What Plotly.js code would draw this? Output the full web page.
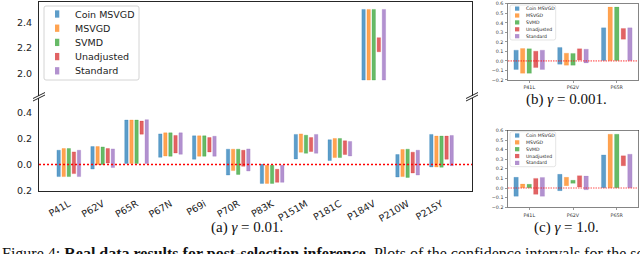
<!DOCTYPE html>
<html><head><meta charset="utf-8">
<script src="https://cdn.plot.ly/plotly-3.0.1.min.js"></script>
<style>html,body{margin:0;padding:0;background:#fff;}#chart{width:640px;height:254px;}</style>
</head><body><div id="chart"></div>
<script>
// ---------- data ----------
const methods = ['Coin MSVGD', 'MSVGD', 'SVMD', 'Unadjusted', 'Standard'];
const mutationsA = ['P41L','P62V','P65R','P67N','P69i','P70R','P83K','P151M','P181C','P184V','P210W','P215Y'];
const mutationsBC = ['P41L','P62V','P65R'];

const yTicksLower = [-0.2, 0.0, 0.2, 0.4];
const yTickTextLower = ['0.2', '0.0', '0.2', '0.4'];
const yTicksUpper = [2.0, 2.2, 2.4];
const yTickTextUpper = ['2.0', '2.2', '2.4'];
const yTicksSmall = [-0.2, -0.1, 0.0, 0.1, 0.2, 0.3, 0.4, 0.5, 0.6];

// (a) gamma = 0.01
const aCoinLo  = [-0.092,-0.034,0.008,0.056,0.041,-0.080,-0.144,0.043,0.031,1.953,-0.095,-0.018];
const aCoinHi  = [0.110,0.138,0.341,0.235,0.220,0.118,0.002,0.231,0.190,2.500,0.077,0.231];
const aMsvgdLo = [-0.092,0.000,0.008,0.066,0.064,-0.046,-0.144,0.095,0.054,1.953,-0.092,-0.018];
const aMsvgdHi = [0.123,0.138,0.341,0.243,0.220,0.118,-0.005,0.235,0.200,2.500,0.115,0.218];
const aSvmdLo  = [-0.092,0.000,0.008,0.064,0.064,-0.075,-0.144,0.087,0.054,1.953,-0.098,-0.020];
const aSvmdHi  = [0.123,0.135,0.341,0.243,0.220,0.118,-0.005,0.225,0.200,2.500,0.118,0.218];
const aUnadjLo = [-0.069,0.012,0.233,0.089,0.097,-0.013,-0.136,0.100,0.077,2.172,-0.064,0.041];
const aUnadjHi = [0.097,0.123,0.333,0.223,0.207,0.110,-0.036,0.207,0.182,2.281,0.095,0.218];
const aStdLo   = [-0.092,-0.023,0.008,0.079,0.064,-0.049,-0.136,0.087,0.066,1.953,-0.080,-0.008];
const aStdHi   = [0.110,0.120,0.344,0.243,0.217,0.120,-0.005,0.231,0.177,2.500,0.110,0.223];

// (b) gamma = 0.001
const bCoinLo  = [-0.090,-0.035,0.005];
const bCoinHi  = [0.113,0.141,0.347];
const bMsvgdLo = [-0.130,-0.045,0.005];
const bMsvgdHi = [0.130,0.081,0.565];
const bSvmdLo  = [-0.130,-0.045,0.005];
const bSvmdHi  = [0.127,0.078,0.565];
const bUnadjLo = [-0.070,0.008,0.228];
const bUnadjHi = [0.102,0.127,0.341];
const bStdLo   = [-0.090,-0.021,0.005];
const bStdHi   = [0.113,0.123,0.347];

// (c) gamma = 1.0
const cCoinLo  = [-0.086,-0.028,0.003];
const cCoinHi  = [0.111,0.142,0.345];
const cMsvgdLo = [0.003,0.024,0.003];
const cMsvgdHi = [0.041,0.111,0.560];
const cSvmdLo  = [0.003,0.049,0.003];
const cSvmdHi  = [0.038,0.080,0.560];
const cUnadjLo = [-0.066,0.010,0.231];
const cUnadjHi = [0.100,0.128,0.335];
const cStdLo   = [-0.086,-0.018,0.003];
const cStdHi   = [0.110,0.124,0.352];

// ---------- styling ----------
const rgb = ['31,119,180','255,127,14','44,160,44','214,39,40','148,103,189'];
const W = 640, H = 254;
const X = px => px / W;
const Y = py => 1 - py / H;
const axc = '#262626';

const aSets = [[aCoinLo,aCoinHi],[aMsvgdLo,aMsvgdHi],[aSvmdLo,aSvmdHi],[aUnadjLo,aUnadjHi],[aStdLo,aStdHi]];
const bSets = [[bCoinLo,bCoinHi],[bMsvgdLo,bMsvgdHi],[bSvmdLo,bSvmdHi],[bUnadjLo,bUnadjHi],[bStdLo,bStdHi]];
const cSets = [[cCoinLo,cCoinHi],[cMsvgdLo,cMsvgdHi],[cSvmdLo,cSvmdHi],[cUnadjLo,cUnadjHi],[cStdLo,cStdHi]];

function barTrace(cats, lo, hi, i, xa, ya, lw) {
  return {
    type: 'bar', name: methods[i], x: cats, base: lo,
    y: hi.map((h, k) => h - lo[k]),
    xaxis: xa, yaxis: ya,
    width: 0.1, offset: -0.05 + (i - 2) * 0.15,
    marker: {color: `rgba(${rgb[i]},0.72)`, line: {color: `rgba(${rgb[i]},0.3)`, width: lw}},
    showlegend: false, hoverinfo: 'skip'
  };
}

const data = [];
aSets.forEach((s, i) => data.push(barTrace(mutationsA, s[0], s[1], i, 'x', 'y', 0.9)));
aSets.forEach((s, i) => data.push(barTrace(mutationsA, s[0], s[1], i, 'x2', 'y2', 0.9)));
bSets.forEach((s, i) => data.push(barTrace(mutationsBC, s[0], s[1], i, 'x3', 'y3', 0.6)));
cSets.forEach((s, i) => data.push(barTrace(mutationsBC, s[0], s[1], i, 'x4', 'y4', 0.6)));

const shapes = [];
const annotations = [];

// zero reference lines
shapes.push({type:'line', xref:'x domain', yref:'y', x0:0, x1:1, y0:0, y1:0, layer:'above',
  line:{color:'#ff0000', width:1.5, dash:'2px,2px'}});
shapes.push({type:'line', xref:'x3 domain', yref:'y3', x0:0, x1:1, y0:0, y1:0, layer:'above',
  line:{color:'rgba(255,0,0,0.45)', width:1.6, dash:'1.5px,1px'}});
shapes.push({type:'line', xref:'x4 domain', yref:'y4', x0:0, x1:1, y0:0, y1:0, layer:'above',
  line:{color:'rgba(255,0,0,0.45)', width:1.6, dash:'1.5px,1px'}});

// break marks
[39, 472].forEach(cx => {
  [95.5, 98].forEach(cy => {
    shapes.push({type:'line', xref:'paper', yref:'paper', x0:X(cx-6), x1:X(cx+6), y0:Y(cy+3), y1:Y(cy-3),
      line:{color:axc, width:1}});
  });
});

// legends
function roundedBox(x0, y0, x1, y1, r) {
  const p = (x, y) => `${X(x)},${Y(y)}`;
  return `M${p(x0+r,y0)} L${p(x1-r,y0)} Q${p(x1,y0)} ${p(x1,y0+r)} L${p(x1,y1-r)} Q${p(x1,y1)} ${p(x1-r,y1)} L${p(x0+r,y1)} Q${p(x0,y1)} ${p(x0,y1-r)} L${p(x0,y0+r)} Q${p(x0,y0)} ${p(x0+r,y0)} Z`;
}
function addLegend(box, firstY, dy, symX, symW, symH, textX, fontSize, lw) {
  shapes.push({type:'path', xref:'paper', yref:'paper', path: roundedBox(box[0], box[1], box[2], box[3], 2),
    fillcolor:'rgba(255,255,255,0.85)', line:{color:'#d4d4d4', width:lw}, layer:'above'});
  methods.forEach((m, i) => {
    const cy = firstY + i * dy;
    shapes.push({type:'rect', xref:'paper', yref:'paper', x0:X(symX), x1:X(symX+symW), y0:Y(cy+symH/2), y1:Y(cy-symH/2),
      fillcolor:`rgba(${rgb[i]},0.72)`, line:{width:0}, layer:'above'});
    annotations.push({xref:'paper', yref:'paper', x:X(textX), y:Y(cy), xanchor:'left', yanchor:'middle',
      text:m, showarrow:false, borderpad:0, font:{family:'DejaVu Sans', size:fontSize, color:'#222'}});
  });
}
addLegend([44, 6, 139, 80], 14, 14.2, 55, 4.3, 7.3, 74, 9.5, 1);
addLegend([510, 5, 555.7, 40], 8.6, 6.9, 515, 4.3, 4.2, 524.5, 4.6, 0.6);
addLegend([510, 131.7, 555.7, 166.7], 135.5, 6.85, 515, 4.3, 4.2, 524.5, 4.6, 0.6);

// captions
const capFont = {family:'Liberation Serif, Times New Roman, serif', size:15, color:'#111'};
annotations.push({xref:'paper', yref:'paper', x:X(246.7), y:Y(227.5), xanchor:'center', yanchor:'middle',
  text:'(a) <i>γ</i> = 0.01.', showarrow:false, font:capFont});
annotations.push({xref:'paper', yref:'paper', x:X(566.7), y:Y(100), xanchor:'center', yanchor:'middle',
  text:'(b) <i>γ</i> = 0.001.', showarrow:false, font:capFont});
annotations.push({xref:'paper', yref:'paper', x:X(566), y:Y(227.5), xanchor:'center', yanchor:'middle',
  text:'(c) <i>γ</i> = 1.0.', showarrow:false, font:capFont});
annotations.push({xref:'paper', yref:'paper', x:X(0), y:Y(253.5), xanchor:'left', yanchor:'middle',
  text:'Figure 4: <b>Real data results for post-selection inference.</b> Plots of the confidence intervals for the selected mutations', showarrow:false,
  font:{family:'Liberation Serif, Times New Roman, serif', size:16, color:'#111'}});

const mainY = {showline:true, mirror:true, linecolor:axc, linewidth:1.1, showgrid:false, zeroline:false,
  ticks:'', tickfont:{size:9.5, color:'#222'}, ticklabelstandoff:4};
const smallAx = {showline:true, mirror:true, linecolor:'#333', linewidth:0.6, showgrid:false, zeroline:false,
  ticks:'outside', ticklen:2, tickwidth:0.5, tickcolor:'#333', tickfont:{size:4.8, color:'#333'}, ticklabelstandoff:1};

const layout = {
  width: W, height: H, margin:{l:0, r:0, t:0, b:0}, showlegend:false, barmode:'overlay',
  paper_bgcolor:'#fff', plot_bgcolor:'rgba(0,0,0,0)',
  font:{family:'DejaVu Sans', color:'#222'},
  xaxis: {domain:[X(39), X(472)], anchor:'y', type:'category', range:[-0.88, 11.9], tickangle:-30,
    tickfont:{size:9.5, color:'#222'}, showline:true, linecolor:axc, linewidth:1.1, ticks:'',
    showgrid:false, zeroline:false, ticklabelstandoff:3},
  yaxis: Object.assign({domain:[Y(190.7), Y(98)], anchor:'x', range:[-0.2, 0.51],
    tickvals:yTicksLower, ticktext:yTickTextLower}, mainY),
  xaxis2: {domain:[X(39), X(472)], anchor:'y2', type:'category', range:[-0.88, 11.9], side:'top',
    showticklabels:false, showline:true, linecolor:axc, linewidth:1.1, ticks:'', showgrid:false, zeroline:false},
  yaxis2: Object.assign({domain:[Y(95.5), Y(1.7)], anchor:'x2', range:[1.833, 2.56],
    tickvals:yTicksUpper, ticktext:yTickTextUpper}, mainY),
  xaxis3: Object.assign({domain:[X(508), X(638)], anchor:'y3', type:'category', range:[-0.485, 2.485]}, smallAx),
  yaxis3: Object.assign({domain:[Y(80), Y(3.7)], anchor:'x3', range:[-0.201, 0.601], tickvals:yTicksSmall, tickformat:'.1f'}, smallAx),
  xaxis4: Object.assign({domain:[X(508), X(638)], anchor:'y4', type:'category', range:[-0.485, 2.485]}, smallAx),
  yaxis4: Object.assign({domain:[Y(207.3), Y(130.3)], anchor:'x4', range:[-0.201, 0.601], tickvals:yTicksSmall, tickformat:'.1f'}, smallAx),
  shapes: shapes,
  annotations: annotations
};

Plotly.newPlot('chart', data, layout, {staticPlot:true, displayModeBar:false});
</script>
</body></html>
